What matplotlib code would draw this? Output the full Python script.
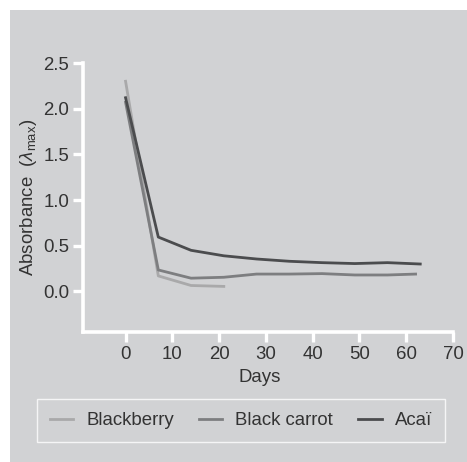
import matplotlib
matplotlib.use("Agg")
import matplotlib.pyplot as plt
from matplotlib.patches import Rectangle

plt.rcParams['font.family'] = ['Liberation Sans', 'DejaVu Sans']
plt.rcParams['mathtext.fontset'] = 'custom'
plt.rcParams['mathtext.rm'] = 'Liberation Sans'
plt.rcParams['mathtext.it'] = 'Liberation Sans:italic'

days_blackberry = [0, 7, 14, 21]
blackberry = [2.30, 0.17, 0.065, 0.055]

days_carrot = [0, 7, 14, 21, 28, 35, 42, 49, 56, 62]
black_carrot = [2.07, 0.235, 0.145, 0.155, 0.19, 0.19, 0.195, 0.18, 0.18, 0.19]

days_acai = [0, 7, 14, 21, 28, 35, 42, 49, 56, 63]
acai = [2.12, 0.595, 0.45, 0.39, 0.355, 0.33, 0.315, 0.305, 0.315, 0.30]

xticks = [0, 10, 20, 30, 40, 50, 60, 70]
yticks = [0.0, 0.5, 1.0, 1.5, 2.0, 2.5]
ytick_labels = ["0.0", "0.5", "1.0", "1.5", "2.0", "2.5"]

W, H = 467, 462
bg = '#d1d2d4'
fs = 13.4
fig = plt.figure(figsize=(W / 100, H / 100), dpi=100, facecolor='white')
fig.patches.append(Rectangle((10 / W, 0), 1 - 10 / W, 1 - 10 / H,
                             transform=fig.transFigure, facecolor=bg,
                             edgecolor='none', zorder=-10))

ax = fig.add_axes([83 / W, 1 - 332 / H, (453 - 83) / W, (332 - 63) / H])
ax.set_facecolor('none')
ax.set_zorder(5)

ax.plot(days_blackberry, blackberry, color='#a9a9aa', lw=2.0, label='Blackberry')
ax.plot(days_carrot, black_carrot, color='#7d7e80', lw=2.0, label='Black carrot')
ax.plot(days_acai, acai, color='#4b4c4e', lw=2.0, label='Acaï')

ax.set_xlim(-9.1, 70)
ax.set_ylim(-0.444, 2.5)
ax.set_xticks(xticks)
ax.set_yticks(yticks)
ax.set_yticklabels(ytick_labels)

for s in ['top', 'right']:
    ax.spines[s].set_visible(False)
for s in ['left', 'bottom']:
    ax.spines[s].set_color('white')
    ax.spines[s].set_linewidth(2.6)
    ax.spines[s].set_capstyle('projecting')

ax.tick_params(axis='both', colors='white', width=2.4, length=7,
               labelsize=fs, labelcolor='#333333', pad=3)

ax.set_ylabel('Absorbance  ($\\lambda_{\\rm max}$)', fontsize=fs, color='#333333', labelpad=3)
fig.text(260 / W, 1 - 377 / H, 'Days', ha='center', va='center', fontsize=fs, color='#333333')

leg = fig.legend(loc='center', bbox_to_anchor=(241 / W, 1 - 420.5 / H), ncol=3,
                 frameon=True, fancybox=False, fontsize=fs,
                 handlelength=1.25, handletextpad=0.7, columnspacing=1.35,
                 borderpad=0.72, borderaxespad=0)
leg.get_frame().set_facecolor('none')
leg.get_frame().set_edgecolor('white')
leg.get_frame().set_linewidth(1.0)
for t in leg.get_texts():
    t.set_color('#333333')

fig.savefig('out.png', dpi=100, facecolor='white')
